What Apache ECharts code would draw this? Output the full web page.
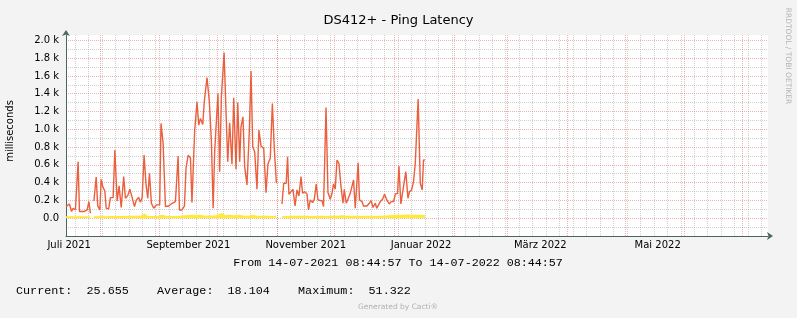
<!DOCTYPE html>
<html><head><meta charset="utf-8">
<script src="https://cdn.jsdelivr.net/npm/echarts@6/dist/echarts.min.js"></script>
<style>html,body{margin:0;padding:0;background:#f3f3f3}#c{width:797px;height:318px}</style>
</head><body><div id="c"></div>
<script>
const DAY = 86400000;
const startTime = Date.UTC(2021, 6, 14, 8, 44, 57);
const endTime = Date.UTC(2022, 6, 14, 8, 44, 57);

// [day offset from start, milliseconds]
const latencySamples = [
[0,130],[1.8,160],[2.9,75],[3.7,112],[4.9,93],[5.5,93],[6.3,636],[7.0,75],[7.5,64],[9.3,75],[11.0,93],[11.9,187],[12.7,56],[13.5,null],
[14.5,194],[15.7,464],[16.5,138],[17.6,93],[18.3,437],[19.1,355],[20.2,306],[20.9,112],[22.2,105],[23.1,232],[24.5,232],[25.4,767],
[26.6,194],[27.6,363],[28.7,120],[30.0,467],[30.9,224],[32.1,254],[33.2,325],[34.4,232],[35.6,131],[36.6,206],[37.8,232],[38.7,180],
[39.6,232],[40.6,710],[41.6,381],[42.5,224],[43.4,505],[44.4,168],[45.6,112],[47.0,150],[48.7,150],[49.4,1066],[50.5,841],[51.7,131],
[53.4,138],[55.2,168],[56.9,187],[58.3,699],[59.0,93],[60.3,93],[61.6,138],[62.4,561],[63.5,707],[64.7,680],[65.5,176],[66.9,980],
[68.1,1309],[69.0,1047],[69.9,1122],[71.1,1054],[71.9,1309],[73.3,1582],[74.5,1320],[75.6,867],[76.5,112],[77.3,748],[78.2,759],
[79.0,1402],[79.9,523],[80.8,1365],[81.5,1365],[82.2,1862],[83.2,1197],[84.1,636],[85.1,1073],[86.3,606],[87.2,1354],[88.4,550],
[89.3,1300],[90.3,636],[91.0,1028],[92.0,1140],[92.9,580],[94.1,374],[95.3,972],[96.2,1656],[97.1,804],[98.1,748],[99.3,325],
[100.3,991],[101.4,811],[102.8,785],[104.0,288],[105.0,609],[106.2,673],[107.3,1290],[108.3,785],[109.4,393],[111.0,null],
[112.3,160],[113.2,393],[114.5,393],[115.2,692],[115.9,269],[117.0,299],[118.0,325],[119.1,138],[120.1,318],[121.1,250],[122.2,467],
[123.0,280],[124.1,299],[125.3,273],[126.1,93],[127.0,206],[128.2,176],[129.1,213],[130.1,385],[131.0,206],[131.9,187],[133.2,194],
[133.9,131],[135.2,1245],[136.2,288],[137.4,213],[138.3,280],[139.1,385],[140.0,329],[140.9,654],[141.9,617],[142.9,374],[144.0,168],
[144.7,325],[145.7,168],[146.6,213],[147.8,280],[148.7,299],[149.5,430],[150.4,112],[151.3,112],[151.9,624],[152.6,206],[153.9,187],
[154.7,138],[156.5,138],[157.7,168],[158.7,198],[159.6,120],[160.8,168],[161.6,112],[162.5,112],[163.4,187],[164.6,213],[165.6,269],
[166.8,206],[168.1,160],[169.1,187],[170.3,187],[171.3,273],[172.4,280],[173.1,587],[174.1,160],[175.0,288],[175.8,269],[176.7,523],
[177.8,224],[178.6,299],[179.7,318],[180.7,411],[181.6,617],[182.4,617],[183.1,1339],[184.2,393],[185.2,318],[185.9,654],[186.6,654]
];

const baseSamples = [
[0,12],[3,14],[6,12],[9,13],[12.7,12],[13.5,null],[14.5,14],[18,16],[21,14],[24,15],[27,16],[30,15],[33,18],[36,20],[39,22],[40.8,45],
[42,20],[45,16],[48,18],[50,30],[52,18],[55,16],[58,18],[61,22],[63,28],[66,30],[68,28],[70,30],[72,20],[75,22],[78,24],[81,50],
[82.5,25],[85,30],[87,24],[90,30],[92,22],[95,18],[97,30],[99,18],[102,20],[105,18],[107,16],[109.4,15],[111,null],[112.3,14],
[115,16],[118,18],[121,20],[124,18],[127,16],[130,17],[133,18],[136,16],[139,18],[142,20],[143.6,26],[145,18],[148,20],[149,30],
[151,18],[154,16],[157,18],[160,17],[163,18],[166,20],[169,28],[172,30],[175,30],[178,32],[181,30],[184,30],[186.6,26]
];

const xLabelDates = [[2021,6,16],[2021,8,16],[2021,10,16],[2022,0,15],[2022,2,18],[2022,4,18]];
const monthNames = ['Januar','Februar','März','April','Mai','Juni','Juli','August','September','Oktober','November','Dezember'];
const yMin = -200, yMax = 2060, yStep = 100;

const toSeries = arr => arr.map(p => [startTime + p[0] * DAY, p[1] === null ? '-' : p[1]]);

// vertical grid: Mondays (minor) and month starts (major)
const weekLines = [];
for (let t = Date.UTC(2021, 6, 19); t < endTime; t += 7 * DAY) weekLines.push({ xAxis: t });
const monthLines = [];
for (let m = 7; m < 19; m++) monthLines.push({ xAxis: Date.UTC(2021, m, 1) });

const AXIS = '#4a665e';
const MINOR = 'rgba(140,140,140,0.42)';
const MAJOR = 'rgba(225,70,70,0.42)';

const chart = echarts.init(document.getElementById('c'), null, { renderer: 'canvas' });
chart.setOption({
  animation: false,
  backgroundColor: '#f3f3f3',
  textStyle: { fontFamily: 'DejaVu Sans' },
  grid: { left: 66, right: 29, top: 35, bottom: 82, show: true, backgroundColor: '#ffffff', borderWidth: 0 },
  xAxis: {
    type: 'value', min: startTime, max: endTime,
    axisLine: { show: true, onZero: false, lineStyle: { color: AXIS, width: 1 }, symbol: ['none', 'arrow'], symbolSize: [6, 6], symbolOffset: [0, 5] },
    axisTick: { show: false },
    splitLine: { show: false },
    axisLabel: {
      customValues: xLabelDates.map(d => Date.UTC(d[0], d[1], d[2])),
      formatter: v => { const d = new Date(v); return monthNames[d.getUTCMonth()] + ' ' + d.getUTCFullYear(); },
      color: '#000', fontSize: 10, fontFamily: 'DejaVu Sans', margin: 4, showMinLabel: true, showMaxLabel: true
    }
  },
  yAxis: {
    type: 'value', min: yMin, max: yMax, interval: yStep,
    axisLine: { show: true, lineStyle: { color: AXIS, width: 1 }, symbol: ['none', 'arrow'], symbolSize: [6, 6], symbolOffset: [0, 5] },
    axisTick: { show: false },
    splitLine: { show: true, showMaxLine: false, lineStyle: { color: [MAJOR, MINOR], type: [1, 1], width: 1 } },
    axisLabel: {
      color: '#000', fontSize: 10, fontFamily: 'DejaVu Sans', margin: 7,
      formatter: v => {
        if (v < 0 || v % 200 !== 0) return '';
        return v === 0 ? '0.0' : (v / 1000).toFixed(1) + ' k';
      }
    }
  },
  series: [
    {
      type: 'line', data: [[startTime, '-']], silent: true, z: 1, symbol: 'none',
      markLine: {
        silent: true, z: 1, symbol: ['none', 'none'], label: { show: false },
        lineStyle: { color: MINOR, type: [1, 1], width: 1 },
        emphasis: { disabled: true },
        data: weekLines
      }
    },
    {
      type: 'line', data: [[startTime, '-']], silent: true, z: 1, symbol: 'none',
      markLine: {
        silent: true, z: 1, symbol: ['none', 'none'], label: { show: false },
        lineStyle: { color: MAJOR, type: [1, 1], width: 1 },
        emphasis: { disabled: true },
        data: monthLines
      }
    },
    {
      name: 'base', type: 'line', data: toSeries(baseSamples), symbol: 'none', z: 3,
      lineStyle: { color: '#ffe93f', width: 1.6 },
      areaStyle: { color: '#ffe93f', opacity: 1, origin: 0 },
      connectNulls: false
    },
    {
      name: 'latency', type: 'line', data: toSeries(latencySamples), symbol: 'none', z: 4,
      lineStyle: { color: '#ea5f3d', width: 1.4 },
      connectNulls: false
    }
  ],
  graphic: [
    { type: 'text', left: 'center', top: 14, style: { text: 'DS412+ - Ping Latency', font: '13px "DejaVu Sans"', fill: '#000' } },
    { type: 'text', x: 10, y: 131, rotation: Math.PI / 2, style: { text: 'milliseconds', font: '10px "DejaVu Sans"', fill: '#000', align: 'center', verticalAlign: 'middle' } },
    { type: 'text', x: 788, y: 56, rotation: -Math.PI / 2, style: { text: 'RRDTOOL / TOBI OETIKER', font: '7.5px "DejaVu Sans"', fill: '#b4b4b4', align: 'center', verticalAlign: 'middle' } },
    { type: 'text', x: 398, y: 263, style: { text: 'From 14-07-2021 08:44:57 To 14-07-2022 08:44:57', font: '11.7px "Liberation Mono"', fill: '#000', align: 'center', verticalAlign: 'middle' } },
    { type: 'text', x: 16, y: 290.5, style: { text: 'Current:  25.655    Average:  18.104    Maximum:  51.322', font: '11.75px "Liberation Mono"', fill: '#000', align: 'left', verticalAlign: 'middle' } },
    { type: 'text', x: 398, y: 307.5, style: { text: 'Generated by Cacti®', font: '7.5px "DejaVu Sans"', fill: '#b0b0b0', align: 'center', verticalAlign: 'middle' } }
  ]
});
</script></body></html>
